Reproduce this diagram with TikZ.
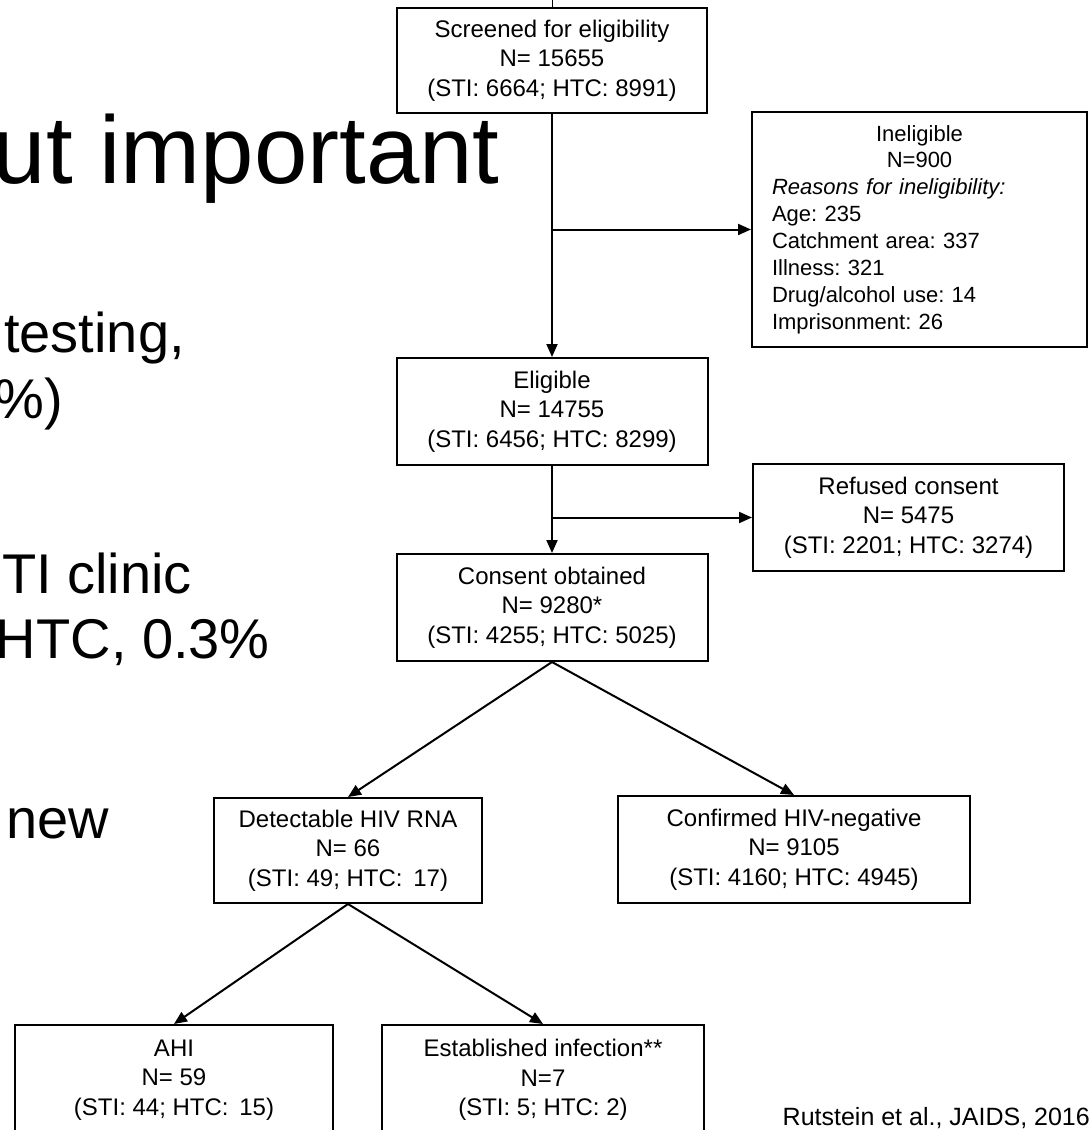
\documentclass[tikz,border=0pt]{standalone}
\usepackage{fontspec}
\setmainfont{Liberation Sans}
\usetikzlibrary{arrows.meta}
\frenchspacing
\tikzset{
	box/.style 2 args={draw,line width=2pt,inner sep=0pt,minimum width=#1,minimum height=#2,align=center,font=\fontsize{24}{29.5}\selectfont},
	flow/.style={line width=2pt,-{Triangle[length=13pt,width=11pt]}},
	slide/.style={anchor=base east,inner sep=0pt,font=\fontsize{#1}{#1}\selectfont}
}
\begin{document}
\begin{tikzpicture}[x=1pt,y=-1pt]
	\useasboundingbox (0,0) rectangle (1088,1130);
	\clip (0,0) rectangle (1088,1130);

	\node [slide=96] (title) at (500,183) {ut important};
	\node [slide=56] (testing) at (185,352) {testing,};
	\node [slide=56] (pct) at (63,418) {\%)};
	\node [slide=56] (clinic) at (192,593) {TI clinic};
	\node [slide=56] (htc) at (270,658) {HTC, 0.3\%};
	\node [slide=56] (new) at (109,838) {new};
	\node [slide=25] (cite) at (1090,1125) {Rutstein et al., JAIDS, 2016};

	\node [box={310pt}{105pt}] (scr) at (552,60.5) {Screened for eligibility\\N= 15655\\(STI: 6664; HTC: 8991)};
	\node [box={335pt}{235pt},text width=295pt,align=left,font=\fontsize{22}{26.9}\selectfont] (inel) at (919.5,229.5) {\makebox[\hsize]{Ineligible}\\\makebox[\hsize]{N=900}\\\textit{Reasons for ineligibility:}\\Age: 235\\Catchment area: 337\\Illness: 321\\Drug/alcohol use: 14\\Imprisonment: 26};
	\node [box={311pt}{107pt}] (elig) at (552,411.5) {Eligible\\N= 14755\\(STI: 6456; HTC: 8299)};
	\node [box={311pt}{107pt}] (refused) at (908.5,517.5) {Refused consent\\N= 5475\\(STI: 2201; HTC: 3274)};
	\node [box={311pt}{107pt}] (consent) at (552,607.5) {Consent obtained\\N= 9280*\\(STI: 4255; HTC: 5025)};
	\node [box={268pt}{105pt}] (rna) at (348,850.5) {Detectable HIV RNA\\N= 66\\(STI: 49; HTC:\, 17)};
	\node [box={352pt}{107pt}] (neg) at (794,849.5) {Confirmed HIV-negative\\N= 9105\\(STI: 4160; HTC: 4945)};
	\node [box={318pt}{110pt}] (ahi) at (174,1080) {AHI\\N= 59\\(STI: 44; HTC:\, 15)};
	\node [box={322pt}{110pt}] (est) at (543,1080) {Established infection**\\N=7\\(STI: 5; HTC: 2)};

	\coordinate (cut) at (552,0);
	\draw [line width=1pt] (scr.north) -- (cut);
	\draw [flow] (scr.south) -- (elig.north);
	\draw [flow] (scr.south |- inel.west) -- (inel.west);
	\draw [flow] (elig.south) -- (consent.north);
	\draw [flow] (elig.south |- refused.west) -- (refused.west);
	\draw [flow] (consent.south) -- (rna.north);
	\draw [flow] (consent.south) -- (neg.north);
	\draw [flow] (rna.south) -- (ahi.north);
	\draw [flow] (rna.south) -- (est.north);
\end{tikzpicture}
\end{document}
